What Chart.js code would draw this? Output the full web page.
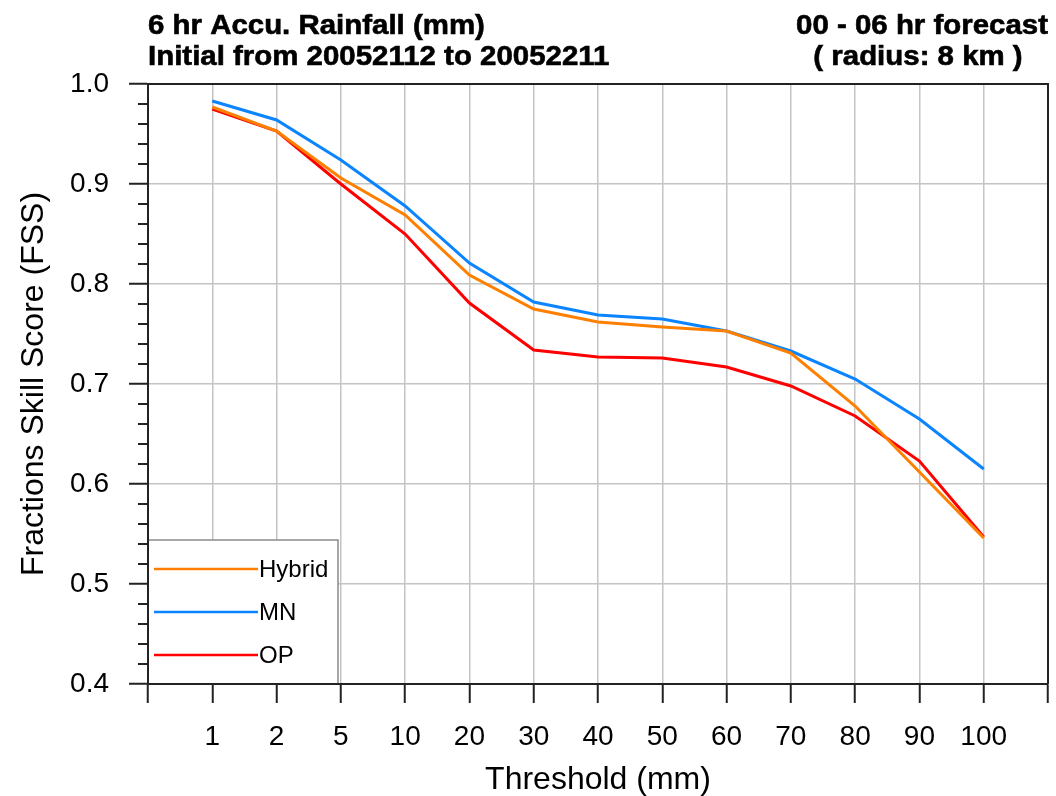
<!DOCTYPE html>
<html>
<head>
<meta charset="utf-8">
<script src="https://cdn.jsdelivr.net/npm/chart.js@4.4.1/dist/chart.umd.min.js"></script>
<style>
html,body{margin:0;padding:0;background:#fff;}
canvas{display:block;}
</style>
</head>
<body>
<canvas id="c" width="1056" height="796"></canvas>
<script>
// ---- data ----
const categories = ['1','2','5','10','20','30','40','50','60','70','80','90','100'];
const hybrid = [0.977,0.953,0.906,0.869,0.809,0.775,0.762,0.757,0.753,0.731,0.678,0.612,0.546];
const mn     = [0.983,0.964,0.924,0.878,0.821,0.782,0.769,0.765,0.753,0.733,0.705,0.665,0.615];
const op     = [0.975,0.953,0.900,0.850,0.781,0.734,0.727,0.726,0.717,0.698,0.668,0.623,0.547];
const seriesNames = ['Hybrid','MN','OP'];
const yTickLabels = ['0.4','0.5','0.6','0.7','0.8','0.9','1.0'];
const titleLeft = ['6 hr Accu. Rainfall (mm)','Initial from 20052112 to 20052211'];
const titleRight = ['00 - 06 hr forecast','( radius: 8 km )'];
const xTitle = 'Threshold (mm)';
const yTitle = 'Fractions Skill Score (FSS)';

const colors = ['#FF8000','#0A84FF','#FF0000'];
const toXY = arr => arr.map((v,i)=>({x:i+1,y:v}));
const FONT = "'Liberation Sans', Arial, Helvetica, sans-serif";

const bgPlugin = {
  id:'bg',
  beforeDraw(chart){
    const ctx = chart.ctx;
    ctx.save(); ctx.fillStyle='#fff'; ctx.fillRect(0,0,chart.width,chart.height); ctx.restore();
  }
};

const minorTicks = {
  id:'minorTicks',
  afterDraw(chart){
    const ctx = chart.ctx, ys = chart.scales.y, a = chart.chartArea;
    ctx.save();
    ctx.strokeStyle='#222'; ctx.lineWidth=2;
    for(let k=20;k<=50;k++){
      if(k%5===0) continue;
      const py = Math.round(ys.getPixelForValue(k/50));
      ctx.beginPath(); ctx.moveTo(a.left-10,py); ctx.lineTo(a.left,py); ctx.stroke();
    }
    ctx.restore();
  }
};

const legendBox = {
  id:'legendBox',
  afterDatasetsDraw(chart){
    const ctx = chart.ctx, a = chart.chartArea;
    const x0=a.left, x1=a.left+190, y0=a.bottom-144, y1=a.bottom;
    ctx.save();
    ctx.fillStyle='#fff'; ctx.fillRect(x0+1,y0,x1-x0-1,y1-y0-1);
    ctx.strokeStyle='#8a8a8a'; ctx.lineWidth=1.5;
    ctx.beginPath(); ctx.moveTo(x0,y0); ctx.lineTo(x1,y0); ctx.lineTo(x1,y1); ctx.stroke();
    const rows=[y0+29,y0+72,y0+115];
    chart.data.datasets.forEach((ds,i)=>{
      ctx.strokeStyle=ds.borderColor; ctx.lineWidth=2.5;
      ctx.beginPath(); ctx.moveTo(x0+6,rows[i]); ctx.lineTo(x0+110,rows[i]); ctx.stroke();
      ctx.fillStyle='#000'; ctx.font='24px '+FONT; ctx.textBaseline='middle'; ctx.textAlign='left';
      ctx.fillText(ds.label,x0+111,rows[i]+1);
    });
    ctx.restore();
  }
};

const frame = {
  id:'frame',
  afterDraw(chart){
    const ctx = chart.ctx, a = chart.chartArea;
    ctx.save();
    ctx.strokeStyle='#222'; ctx.lineWidth=2;
    ctx.beginPath(); ctx.moveTo(a.left,a.top); ctx.lineTo(a.right,a.top); ctx.lineTo(a.right,a.bottom); ctx.stroke();
    ctx.beginPath(); ctx.moveTo(a.left,a.bottom); ctx.lineTo(a.right,a.bottom); ctx.stroke();
    ctx.beginPath(); ctx.moveTo(a.left,a.top); ctx.lineTo(a.left,a.bottom); ctx.stroke();
    // titles (stretched bold)
    ctx.fillStyle='#000'; ctx.font='bold 27px '+FONT; ctx.textBaseline='alphabetic';
    ctx.lineWidth=0.6; ctx.strokeStyle='#000';
    const sx=1.09;
    const draw=(t,x,y,align)=>{ctx.save();ctx.translate(x,y);ctx.scale(sx,1);ctx.textAlign=align;ctx.fillText(t,0,0);ctx.strokeText(t,0,0);ctx.restore();};
    draw(titleLeft[0],a.left,34,'left');
    draw(titleLeft[1],a.left,65,'left');
    draw(titleRight[0],a.right,34,'right');
    draw(titleRight[1],918,65,'center');
    ctx.restore();
  }
};

new Chart(document.getElementById('c'),{
  type:'line',
  data:{
    datasets:[
      {label:seriesNames[0],data:toXY(hybrid),borderColor:colors[0]},
      {label:seriesNames[1],data:toXY(mn),borderColor:colors[1]},
      {label:seriesNames[2],data:toXY(op),borderColor:colors[2]}
    ]
  },
  options:{
    responsive:false, animation:false, devicePixelRatio:1,
    layout:{padding:{left:10,right:8,top:84,bottom:0}},
    elements:{point:{radius:0},line:{borderWidth:3,tension:0,fill:false}},
    plugins:{legend:{display:false},title:{display:false},tooltip:{enabled:false}},
    scales:{
      x:{
        type:'linear', min:0, max:14,
        afterFit(s){s.height=112; s.paddingRight=0; s.paddingLeft=0;},
        ticks:{stepSize:1,autoSkip:false,maxRotation:0,color:'#000',padding:17,
          font:{family:FONT,size:28},
          callback:(v)=> (v>=1&&v<=13)? categories[v-1] : ''},
        grid:{color:(c)=> (c.tick && (c.tick.value===0||c.tick.value===14))?'rgba(0,0,0,0)':'#c4c4c4',
          lineWidth:1.5, tickColor:'#222', tickLength:19, tickWidth:2},
        border:{color:'#222',width:2},
        title:{display:true,text:xTitle,color:'#000',font:{family:FONT,size:32},padding:{top:0,bottom:-3}}
      },
      y:{
        type:'linear', min:0.4, max:1.0,
        afterFit(s){s.width=138;},
        ticks:{stepSize:0.1,color:'#000',padding:20,font:{family:FONT,size:28},
          callback:(v)=>{const i=Math.round(v*10)-4; return yTickLabels[i]!==undefined?yTickLabels[i]:'';}},
        grid:{color:(c)=>{const v=c.tick?Math.round(c.tick.value*10):0; return (v===4||v===10)?'rgba(0,0,0,0)':'#c4c4c4';},
          lineWidth:1.5, tickColor:'#222', tickLength:19, tickWidth:2},
        border:{color:'#222',width:2},
        title:{display:true,text:yTitle,color:'#000',font:{family:FONT,size:32},padding:{top:5,bottom:0}}
      }
    }
  },
  plugins:[bgPlugin,legendBox,minorTicks,frame]
});
</script>
</body>
</html>
